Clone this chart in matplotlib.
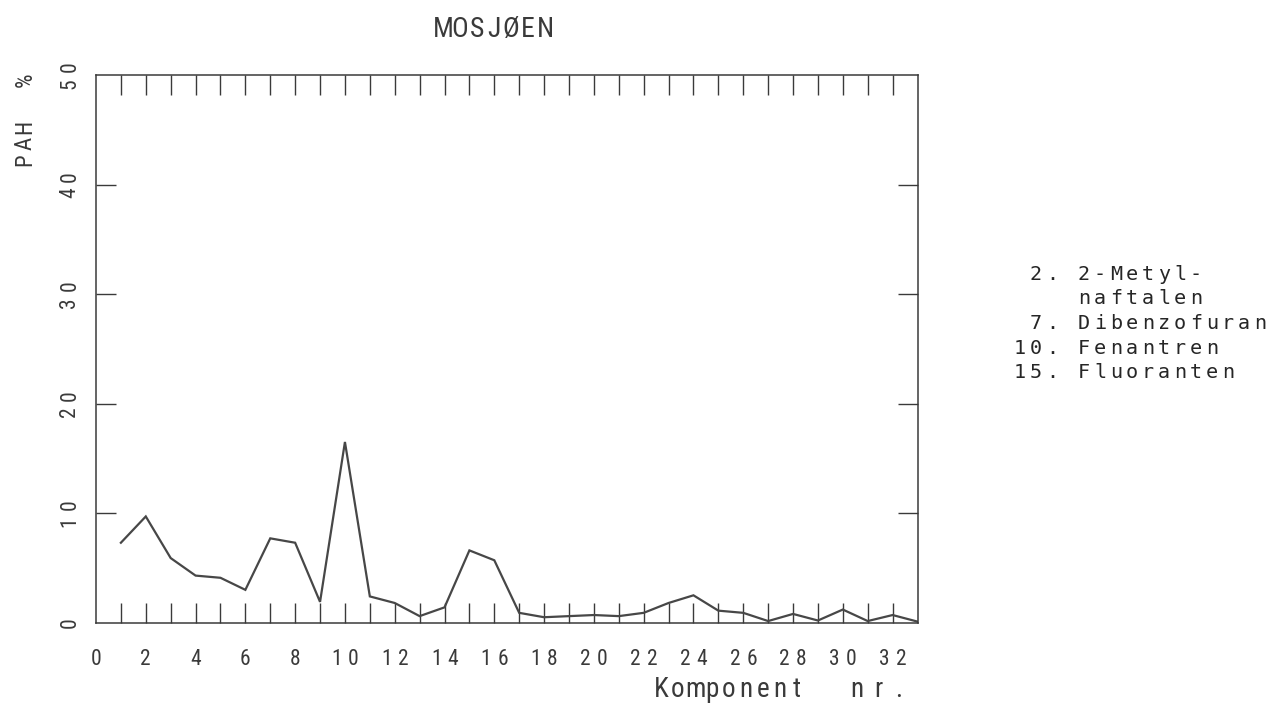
import matplotlib
matplotlib.use("Agg")
import matplotlib.pyplot as plt
from matplotlib import font_manager
from matplotlib.transforms import blended_transform_factory, offset_copy

W, H, DPI = 1271, 710, 100

# PAH profile, percent of total PAH per component number
component = list(range(1, 34))
pah_percent = [7.3, 9.7, 5.9, 4.3, 4.1, 3.0, 7.7, 7.3, 1.9, 16.5,
               2.4, 1.8, 0.6, 1.4, 6.6, 5.7, 0.9, 0.5, 0.6, 0.7,
               0.6, 0.9, 1.8, 2.5, 1.1, 0.9, 0.15, 0.8, 0.2, 1.2,
               0.15, 0.7, 0.1]

x_tick_labels = list(range(0, 33, 2))
x_tick_marks = list(range(1, 33))
y_tick_labels = [0, 10, 20, 30, 40, 50]
y_tick_marks = [10, 20, 30, 40]

title = "MOSJØEN"
x_label = ["Komponent", "nr."]
y_label = ["PAH", "%"]
legend_rows = [" 2. 2-Metyl-",
               "    naftalen",
               " 7. Dibenzofuran",
               "10. Fenantren",
               "15. Fluoranten"]

INK = "#3a3a3a"
LEGEND_INK = "#262626"


def pick_narrow_font():
    """Return (family, stretch, scale) for a narrow sans face if one is installed."""
    entries = font_manager.fontManager.ttflist
    names = {f.name for f in entries}
    for name in ("Liberation Sans Narrow", "Roboto Condensed", "Open Sans Condensed"):
        if name in names:
            return name, "normal", 1.0
    for f in entries:
        if f.name == "DejaVu Sans" and str(f.stretch) in ("condensed", "semi-condensed"):
            return "DejaVu Sans", "condensed", 0.95
    return "Liberation Sans", "normal", 0.82


SANS, STRETCH, SCALE = pick_narrow_font()
MONO = "DejaVu Sans Mono"

fig = plt.figure(figsize=(W / DPI, H / DPI), dpi=DPI)
fig.patch.set_facecolor("white")

left, right, top, bottom = 96, 917.5, 75, 622.7
ax = fig.add_axes([left / W, 1 - bottom / H, (right - left) / W, (bottom - top) / H])
ax.plot(component, pah_percent, color="#474747", lw=1.6, solid_joinstyle="miter")
ax.set_xlim(0, 33)
ax.set_ylim(0, 50)
for sp in ax.spines.values():
    sp.set_color(INK)
    sp.set_linewidth(1.1)
ax.set_xticks(x_tick_marks)
ax.set_yticks(y_tick_marks)
ax.tick_params(direction="in", length=14.4, width=1.0, color=INK,
               top=True, right=True, labelbottom=False, labelleft=False)


def px(x, y):
    return x / W, 1 - y / H


def spaced(x, y, s, pitch, size, family, rotation=0, color=INK, stretch="normal"):
    """Draw a string one glyph at a time on a fixed pitch (pixels)."""
    for i, ch in enumerate(s):
        if ch == " ":
            continue
        if rotation == 90:
            fig.text(*px(x, y - i * pitch), ch, rotation=90, ha="center",
                     va="center", fontsize=size, family=family,
                     fontstretch=stretch, color=color)
        else:
            fig.text(*px(x + i * pitch, y), ch, ha="center", va="baseline",
                     fontsize=size, family=family, fontstretch=stretch,
                     color=color)


# tick labels, letter-spaced around each tick position
TICK_PITCH = 16.5
TICK_SIZE = 15.5 * SCALE
xbase = blended_transform_factory(ax.transData, fig.transFigure)
for v in x_tick_labels:
    s = str(v)
    n = len(s)
    for i, ch in enumerate(s):
        t = offset_copy(xbase, fig=fig, x=(i - (n - 1) / 2) * TICK_PITCH, y=0, units="dots")
        ax.text(v, 1 - 665 / H, ch, transform=t, ha="center", va="baseline",
                fontsize=TICK_SIZE, family=SANS, fontstretch=STRETCH, color=INK)

ybase = blended_transform_factory(fig.transFigure, ax.transData)
for v in y_tick_labels:
    s = str(v)
    n = len(s)
    for i, ch in enumerate(s):
        t = offset_copy(ybase, fig=fig, x=0, y=(i - (n - 1) / 2) * TICK_PITCH, units="dots")
        ax.text(70 / W, v, ch, transform=t, rotation=90, ha="center", va="center",
                fontsize=TICK_SIZE, family=SANS, fontstretch=STRETCH, color=INK)

# title and axis labels
spaced(443, 37, title, 17, 20 * SCALE, SANS, stretch=STRETCH)
spaced(661, 697, x_label[0], 17, 19.5 * SCALE, SANS, stretch=STRETCH)
spaced(857, 697, x_label[1], 21, 19.5 * SCALE, SANS, stretch=STRETCH)
spaced(25, 160, y_label[0], 16.5, 16.5 * SCALE, SANS, rotation=90, stretch=STRETCH)
spaced(25, 80, y_label[1], 16.5, 16.5 * SCALE, SANS, rotation=90, stretch=STRETCH)

# component legend on a monospaced grid
for r, row in enumerate(legend_rows):
    spaced(1020, 280 + r * 24.5, row, 16, 14.5, MONO, color=LEGEND_INK)

fig.savefig("out.png", dpi=DPI, facecolor="white")
